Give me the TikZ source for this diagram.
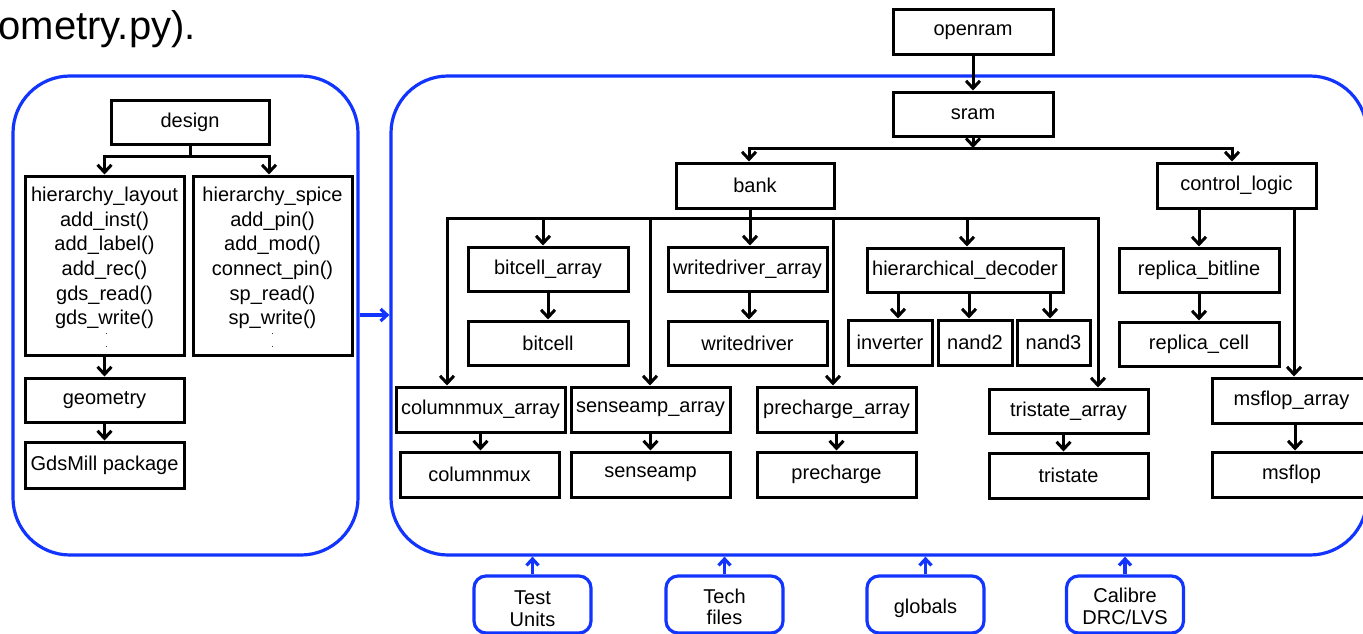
\documentclass[tikz,border=0pt]{standalone}
\usepackage{fontspec}
\setmainfont{Liberation Sans}
\usetikzlibrary{arrows.meta}
\definecolor{cblue}{RGB}{18,52,255}
\tikzset{
 fs/.style={font=\fontsize{20}{24.6}\selectfont},
 box/.style={draw=black, line width=3pt, minimum width=159pt, minimum height=44pt, inner sep=0pt, fs},
 arr/.style={line width=3pt, -{Straight Barb[length=7.5pt,width=14pt]}},
 cont/.style={draw=cblue, line width=3.2pt, rounded corners=57pt, inner sep=0pt},
 bbox/.style={draw=cblue, line width=3.2pt, rounded corners=12pt, minimum width=117pt, minimum height=57pt, inner sep=0pt, font=\fontsize{20}{21.5}\selectfont},
 barr/.style={draw=cblue, line width=3.2pt, -{Straight Barb[length=6.5pt,width=12pt]}},
 dots/.style={inner sep=0pt, align=center, font=\fontsize{9}{13}\selectfont},
}
\begin{document}
\begin{tikzpicture}[x=1pt,y=-1pt]
\useasboundingbox (0,0) rectangle (1363,634);
\clip (0,0) rectangle (1363,634);
% title fragment
\node[anchor=base west, inner sep=0pt, font=\fontsize{40}{46}\selectfont] (title) at (-1.5,40) {ometry.py).};
% containers
\node[cont, minimum width=345pt, minimum height=479pt] (lc) at (185.5,315.5) {};
\node[cont, minimum width=976pt, minimum height=479pt] (rc) at (879,315.5) {};
\draw[barr] (lc.east |- 0,315) -- (rc.west |- 0,315);
% left hierarchy
\node[box, minimum width=158pt] (design) at (190,122) {design};
\node[box, minimum height=179pt] (hl) at (104.5,265.5) {};
\node[box, minimum height=179pt] (hs) at (272.5,265.5) {};
\node[anchor=north, inner sep=0pt, fs, align=center] (hlt) at (104.5,187) {hierarchy\_layout\\add\_inst()\\add\_label()\\add\_rec()\\gds\_read()\\gds\_write()};
\node[anchor=north, inner sep=0pt, fs, align=center] (hst) at (272.5,187) {hierarchy\_spice\\add\_pin()\\add\_mod()\\connect\_pin()\\sp\_read()\\sp\_write()};
\node[dots] (hld) at (106.5,341) {.\\.};
\node[dots] (hsd) at (272.5,341) {.\\.};
\node[box] (geom) at (104.5,400) {geometry};
\node[box, minimum height=46pt] (gds) at (104.5,465) {GdsMill package};
\draw[arr] (design.south) -- ++(0,11) -| (hl.north);
\draw[arr] (design.south) -- ++(0,11) -| ([xshift=-3.5pt]hs.north);
\draw[arr] (hl.south) -- (geom.north);
\draw[arr] (geom.south) -- (gds.north);
% right hierarchy
\node[box, minimum width=160pt, minimum height=45pt] (openram) at (973,32.5) {openram};
\node[box, minimum width=160pt] (sram) at (973,114) {sram};
\node[box, minimum width=158pt, minimum height=45pt] (bank) at (755,185.5) {bank};
\node[box, minimum height=45pt] (cl) at (1236.5,185.5) {control\_logic};
\node[box, minimum width=160pt] (ba) at (548,269) {bitcell\_array};
\node[box, minimum width=160pt] (bc) at (548,343) {bitcell};
\node[box] (wda) at (747.5,269) {writedriver\_array};
\node[box] (wd) at (747.5,343) {writedriver};
\node[box, minimum width=196pt] (hd) at (965,270) {hierarchical\_decoder};
\node[box, minimum width=84pt, minimum height=45pt] (inv) at (890,342.5) {inverter};
\node[box, minimum width=74pt, minimum height=45pt] (n2) at (975,342.5) {nand2};
\node[box, minimum width=73pt, minimum height=45pt] (n3) at (1053.5,342.5) {nand3};
\node[box, minimum width=160pt] (rb) at (1199,270) {replica\_bitline};
\node[box, minimum width=160pt] (rcell) at (1199,344) {replica\_cell};
\node[box, minimum width=169pt, minimum height=45pt] (cma) at (480.5,409.5) {columnmux\_array};
\node[box, minimum height=45pt] (cm) at (479.5,474.5) {columnmux};
\node[box, minimum height=45pt] (sa) at (650.5,409.5) {senseamp\_array};
\node[box, minimum height=45pt] (se) at (650.5,474.5) {senseamp};
\node[box, minimum height=45pt] (pa) at (836.5,409.5) {precharge\_array};
\node[box, minimum height=45pt] (pc) at (836.5,474.5) {precharge};
\node[box] (ta) at (1068.5,411) {tristate\_array};
\node[box, minimum height=45pt] (ts) at (1068.5,475.5) {tristate};
\node[box, minimum height=45pt] (ma) at (1291.5,400.5) {msflop\_array};
\node[box, minimum height=45pt] (mf) at (1291.5,474.5) {msflop};
% sram connectors
\coordinate (sj) at (973,148);
\draw[arr] (openram) -- (sram);
\draw[arr] (sram.south) -- (sj);
\draw[arr] (sj) -| ([xshift=-6pt]bank.north);
\draw[arr] (sj) -| ([xshift=-4.5pt]cl.north);
% bank connectors
\coordinate (bj) at (750,218);
\draw[arr] ([xshift=-5pt]bank.south) -- (bj) -| ([xshift=-33.5pt]cma.north);
\draw[arr] ([xshift=-5pt]bank.south) -- (bj) -| ([xshift=-5pt]ba.north);
\draw[arr] ([xshift=-5pt]bank.south) -- (bj) -| ([xshift=-0.5pt]sa.north);
\draw[arr] ([xshift=-5pt]bank.south) -- (bj) -| ([xshift=2.5pt]wda.north);
\draw[arr] ([xshift=-5pt]bank.south) -- (bj) -| ([xshift=-3.5pt]pa.north);
\draw[arr] ([xshift=-5pt]bank.south) -- (bj) -| ([xshift=2pt]hd.north);
\draw[arr] ([xshift=-5pt]bank.south) -- (bj) -| ([xshift=29.5pt]ta.north);
% array to cell
\draw[arr] (ba.south) -- (bc.north);
\draw[arr] ([xshift=1.5pt]wda.south) -- ([xshift=1.5pt]wd.north);
\draw[arr] ([xshift=8pt]inv.north |- hd.south) -- ([xshift=8pt]inv.north);
\draw[arr] ([xshift=-6pt]n2.north |- hd.south) -- ([xshift=-6pt]n2.north);
\draw[arr] ([xshift=-3.5pt]n3.north |- hd.south) -- ([xshift=-3.5pt]n3.north);
\draw[arr] (cma.south) -- (cma.south |- cm.north);
\draw[arr] (sa.south) -- (se.north);
\draw[arr] (pa.south) -- (pc.north);
\draw[arr] ([xshift=-5pt]ta.south) -- ([xshift=-5pt]ts.north);
\draw[arr] ([xshift=3.5pt]ma.south) -- ([xshift=3.5pt]mf.north);
% control logic
\draw[arr] (rb.north |- cl.south) -- (rb.north);
\draw[arr] ([xshift=2.5pt]ma.north |- cl.south) -- ([xshift=2.5pt]ma.north);
\draw[arr] (rb.south) -- (rcell.north);
% bottom boxes
\node[bbox] (tu) at (532.5,604.5) {\raisebox{-12pt}[0pt][0pt]{\begin{tabular}{@{}c@{}}Test\\Units\end{tabular}}};
\node[bbox] (tf) at (724.5,604.5) {\raisebox{-10.5pt}[0pt][0pt]{\begin{tabular}{@{}c@{}}Tech\\files\end{tabular}}};
\node[bbox] (gl) at (925.5,604.5) {\raisebox{-8.5pt}[0pt][0pt]{globals}};
\node[bbox] (cal) at (1125,604.5) {\raisebox{-10pt}[0pt][0pt]{\begin{tabular}{@{}c@{}}Calibre\\DRC/LVS\end{tabular}}};
\draw[barr] (tu.north) -- (tu.north |- rc.south);
\draw[barr] (tf.north) -- (tf.north |- rc.south);
\draw[barr] (gl.north) -- (gl.north |- rc.south);
\draw[barr] (cal.north) -- (cal.north |- rc.south);
\end{tikzpicture}
\end{document}
